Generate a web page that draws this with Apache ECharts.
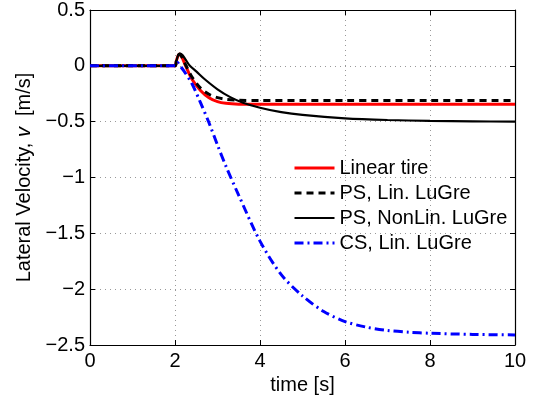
<!DOCTYPE html>
<html><head><meta charset="utf-8">
<script src="https://cdn.jsdelivr.net/npm/echarts@6/dist/echarts.min.js"></script>
<style>html,body{margin:0;padding:0;background:#fff}#c{width:541px;height:405px}</style>
</head><body><div id="c"></div>
<script>
const xTicks = [0, 2, 4, 6, 8, 10];
const yTicks = [0.5, 0, -0.5, -1, -1.5, -2, -2.5];
const seriesNames = ['Linear tire', 'PS, Lin. LuGre', 'PS, NonLin. LuGre', 'CS, Lin. LuGre'];

const tLinear = [0, 1, 2, 2.03, 2.07, 2.11, 2.16, 2.25, 2.4, 2.6, 2.8, 3.0, 3.2, 3.5, 4, 5, 6, 8, 10];
const vLinear = [0, 0, 0, 0.04, 0.09, 0.105, 0.08, 0.0, -0.12, -0.22, -0.285, -0.32, -0.335, -0.343, -0.345, -0.345, -0.345, -0.345, -0.345];

const tPsLin = [0, 1, 2, 2.03, 2.07, 2.11, 2.16, 2.25, 2.4, 2.6, 2.8, 3.0, 3.2, 3.5, 4, 5, 6, 8, 10];
const vPsLin = [0, 0, 0, 0.04, 0.09, 0.105, 0.08, 0.01, -0.1, -0.2, -0.255, -0.285, -0.3, -0.308, -0.31, -0.31, -0.31, -0.31, -0.31];

const tPsNon = [0, 1, 2, 2.03, 2.07, 2.12, 2.18, 2.25, 2.35, 2.5, 2.7, 3.0, 3.3, 3.6, 4, 4.5, 5, 6, 7, 8, 9, 10];
const vPsNon = [0, 0, 0, 0.04, 0.09, 0.11, 0.095, 0.055, 0.0, -0.05, -0.12, -0.21, -0.28, -0.33, -0.375, -0.415, -0.44, -0.47, -0.485, -0.493, -0.497, -0.5];

const tCs = [0, 1, 2, 2.03, 2.06, 2.1, 2.2, 2.4, 2.6, 2.8, 3.0, 3.2, 3.5, 4, 4.5, 5, 5.5, 6, 6.5, 7, 7.5, 8, 9, 10];
const vCs = [0, 0, 0, 0.02, 0.03, 0.01, -0.04, -0.16, -0.33, -0.51, -0.71, -0.9, -1.16, -1.57, -1.87, -2.06, -2.2, -2.29, -2.34, -2.37, -2.385, -2.395, -2.405, -2.41];

function pairs(t, v) { return t.map((x, i) => [x, v[i]]); }
function fmt(v) { return String(v).replace('-', '\u2212'); }

const chart = echarts.init(document.getElementById('c'));
const font = 'Liberation Sans, Arial, sans-serif';
const FS = 20;
const gridLine = { show: true, lineStyle: { color: '#999', type: [1, 4], width: 1 } };
const frameAxis = { show: true, lineStyle: { color: '#000', width: 1.2 } };
const tick = { show: true, inside: true, length: 5, lineStyle: { color: '#000' } };
const widths = [3, 3, 2.2, 3];
chart.setOption({
  animation: false,
  backgroundColor: '#fff',
  grid: { left: 90, right: 26, top: 9, bottom: 60, show: false, containLabel: false },
  xAxis: [{
    type: 'value', min: 0, max: 10, interval: 2,
    name: 'time [s]', nameLocation: 'middle', nameGap: 29,
    nameTextStyle: { fontFamily: font, fontSize: FS, color: '#000' },
    axisLine: Object.assign({ onZero: false }, frameAxis),
    axisTick: tick,
    axisLabel: { fontFamily: font, fontSize: FS, color: '#000', margin: 6, formatter: fmt },
    splitLine: gridLine
  }, {
    type: 'value', min: 0, max: 10, interval: 2, position: 'top',
    axisLine: Object.assign({ onZero: false }, frameAxis), axisTick: tick,
    axisLabel: { show: false }, splitLine: { show: false }
  }],
  yAxis: [{
    type: 'value', min: -2.5, max: 0.5, interval: 0.5,
    name: '{a|Lateral Velocity, }{b|v}{a|  [m/s]}', nameLocation: 'middle', nameGap: 51, nameRotate: 90,
    nameTextStyle: { rich: {
      a: { fontFamily: font, fontSize: FS, color: '#000' },
      b: { fontFamily: font, fontSize: FS, color: '#000', fontStyle: 'italic' } } },
    axisLine: Object.assign({ onZero: false }, frameAxis),
    axisTick: tick,
    axisLabel: { fontFamily: font, fontSize: FS, color: '#000', margin: 5, formatter: fmt },
    splitLine: gridLine
  }, {
    type: 'value', min: -2.5, max: 0.5, interval: 0.5, position: 'right',
    axisLine: Object.assign({ onZero: false }, frameAxis), axisTick: tick,
    axisLabel: { show: false }, splitLine: { show: false }
  }],
  legend: {
    left: 288, top: 153, orient: 'vertical', itemGap: 5, itemWidth: 40, itemHeight: 20,
    itemStyle: { opacity: 0 },
    textStyle: { fontFamily: font, fontSize: FS, color: '#000' },
    data: seriesNames.map((n, i) => ({ name: n, lineStyle: { width: widths[i] } }))
  },
  series: [
    { name: seriesNames[0], type: 'line', data: pairs(tLinear, vLinear), smooth: 0.3, showSymbol: false, symbol: 'none',
      lineStyle: { color: '#ff0000', width: widths[0] }, itemStyle: { color: '#ff0000' }, z: 2 },
    { name: seriesNames[1], type: 'line', data: pairs(tPsLin, vPsLin), smooth: 0.3, showSymbol: false, symbol: 'none',
      lineStyle: { color: '#000', width: widths[1], type: [7, 5] }, itemStyle: { color: '#000' }, z: 3 },
    { name: seriesNames[2], type: 'line', data: pairs(tPsNon, vPsNon), smooth: 0.3, showSymbol: false, symbol: 'none',
      lineStyle: { color: '#000', width: widths[2] }, itemStyle: { color: '#000' }, z: 3 },
    { name: seriesNames[3], type: 'line', data: pairs(tCs, vCs), smooth: 0.3, showSymbol: false, symbol: 'none',
      lineStyle: { color: '#0000ff', width: widths[3], type: [9, 4, 2, 4] }, itemStyle: { color: '#0000ff' }, z: 4 }
  ]
});
</script></body></html>
